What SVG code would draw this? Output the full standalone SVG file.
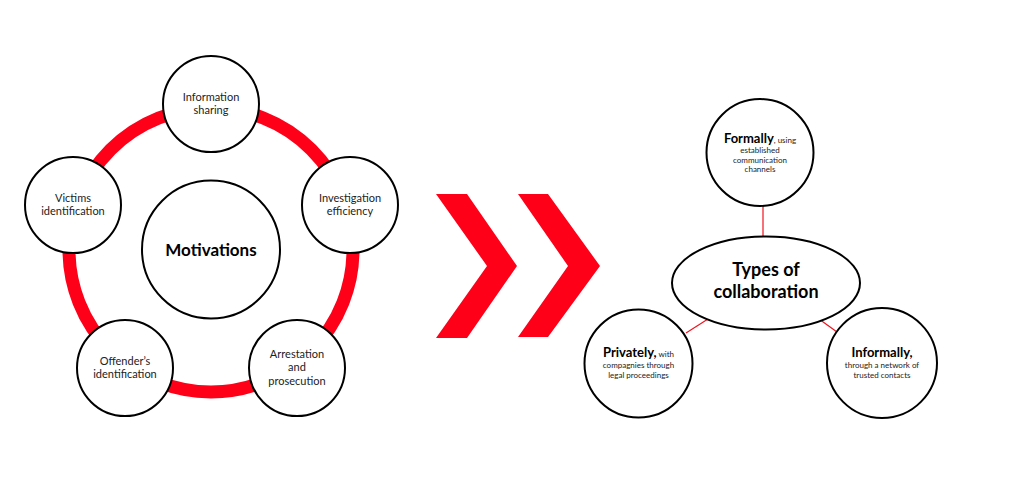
<svg xmlns="http://www.w3.org/2000/svg" width="1024" height="483" viewBox="0 0 1024 483">
<style>
.node{fill:#fff;stroke:#000;stroke-width:2}
.lbl{font-family:Lato,"Open Sans",sans-serif;font-size:11px;fill:#222;text-anchor:middle}
.sm{font-family:Lato,"Open Sans",sans-serif;font-size:8px;fill:#222;text-anchor:middle}
.bold{font-weight:bold;fill:#000}
.conn{stroke:#f0131e;stroke-width:1.2;fill:none}
.red{fill:#ff0019}
</style>
<rect width="1024" height="483" fill="#fff"/>
<g id="ring">
<circle cx="211" cy="250" r="142" fill="none" stroke="#ff0019" stroke-width="13"/>
</g>
<g id="motivations">
<circle class="node" cx="211" cy="249.5" r="69"/>
<text class="lbl bold" x="211" y="256" style="font-size:17px">Motivations</text>
</g>
<g id="information-sharing">
<circle class="node" cx="211" cy="104" r="48"/>
<text class="lbl" x="211" y="101">Information</text>
<text class="lbl" x="211" y="114">sharing</text>
</g>
<g id="investigation-efficiency">
<circle class="node" cx="350" cy="205" r="48"/>
<text class="lbl" x="350" y="202">Investigation</text>
<text class="lbl" x="350" y="215">efficiency</text>
</g>
<g id="victims-identification">
<circle class="node" cx="73" cy="205" r="48"/>
<text class="lbl" x="73" y="202">Victims</text>
<text class="lbl" x="73" y="215">identification</text>
</g>
<g id="offenders-identification">
<circle class="node" cx="125" cy="368" r="48"/>
<text class="lbl" x="125" y="365">Offender’s</text>
<text class="lbl" x="125" y="378">identification</text>
</g>
<g id="arrestation-prosecution">
<circle class="node" cx="297" cy="368" r="48"/>
<text class="lbl" x="297" y="358">Arrestation</text>
<text class="lbl" x="297" y="371">and</text>
<text class="lbl" x="297" y="385">prosecution</text>
</g>
<g id="chevrons">
<polygon class="red" points="436,194 467,194 517,266 467,338 436,338 487,266"/>
<polygon class="red" points="518,194 548,194 600,266 548,337 518,337 568,266"/>
</g>
<g id="connectors">
<line class="conn" x1="763" y1="206" x2="763" y2="236"/>
<line class="conn" x1="686" y1="333" x2="708" y2="319"/>
<line class="conn" x1="819" y1="319" x2="837" y2="332"/>
</g>
<g id="types-of-collaboration">
<ellipse class="node" cx="766" cy="283" rx="94" ry="46.5"/>
<text class="lbl bold" x="766" y="276" style="font-size:18px">Types of</text>
<text class="lbl bold" x="766" y="298" style="font-size:18px">collaboration</text>
</g>
<g id="formally">
<circle class="node" cx="760" cy="152.5" r="53.5"/>
<text class="lbl" x="760" y="143"><tspan class="bold" style="font-size:13px">Formally</tspan><tspan style="font-size:8px">, using</tspan></text>
<text class="sm" x="760" y="153">established</text>
<text class="sm" x="760" y="163">communication</text>
<text class="sm" x="760" y="172">channels</text>
</g>
<g id="privately">
<circle class="node" cx="638.5" cy="363.5" r="54"/>
<text class="lbl" x="638.5" y="357"><tspan class="bold" style="font-size:13px">Privately,</tspan><tspan style="font-size:8px"> with</tspan></text>
<text class="sm" x="638.5" y="368">compagnies through</text>
<text class="sm" x="638.5" y="378">legal proceedings</text>
</g>
<g id="informally">
<circle class="node" cx="882" cy="363" r="55"/>
<text class="lbl bold" x="882" y="357" style="font-size:13px">Informally,</text>
<text class="sm" x="882" y="368">through a network of</text>
<text class="sm" x="882" y="378">trusted contacts</text>
</g>
</svg>
